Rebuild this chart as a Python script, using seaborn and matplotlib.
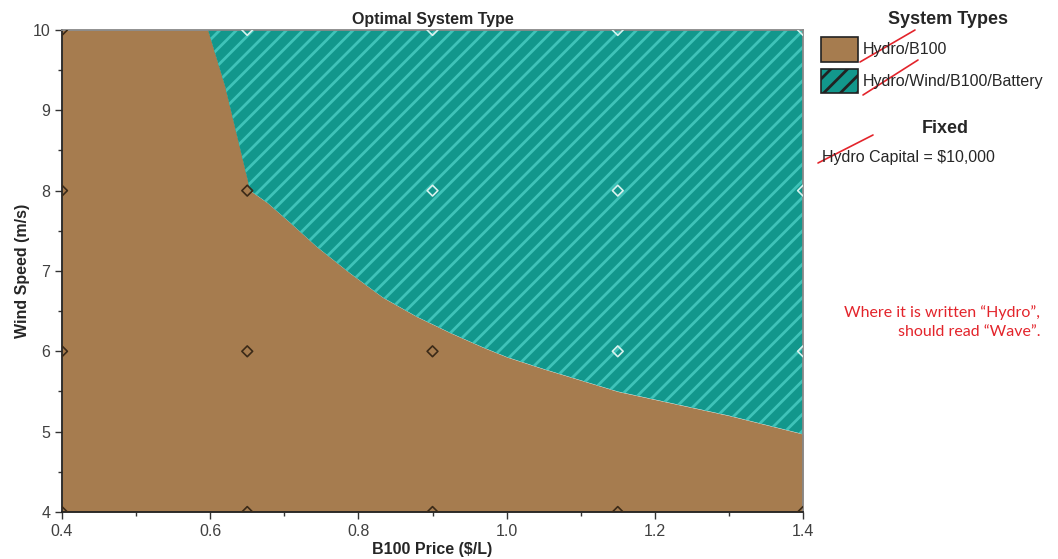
import numpy as np
import pandas as pd
import matplotlib
matplotlib.use("Agg")
import matplotlib.pyplot as plt
import seaborn as sns
from matplotlib.patches import Patch
from matplotlib.ticker import MultipleLocator

# boundary between the two optimal system regions (upper edge of Hydro/B100 area)
boundary_price = [0.40, 0.597, 0.62, 0.654, 0.677, 0.708, 0.744, 0.789, 0.833, 0.879, 0.924,
                  0.968, 1.00, 1.05, 1.10, 1.15, 1.20, 1.30, 1.40]
boundary_wind = [10.0, 10.0, 9.3, 8.0, 7.85, 7.60, 7.30, 6.97, 6.67, 6.43, 6.23,
                 6.05, 5.93, 5.78, 5.64, 5.50, 5.40, 5.20, 4.97]

# simulated sensitivity points
grid_price = [0.4, 0.65, 0.9, 1.15, 1.4]
grid_wind = [4, 6, 8, 10]
# points that fall in the hatched (Hydro/Wind/B100/Battery) region
wind_points = [(0.65, 10), (0.9, 10), (1.15, 10), (1.4, 10),
               (0.9, 8), (1.15, 8), (1.4, 8), (1.15, 6), (1.4, 6)]

system_types = ["Hydro/B100", "Hydro/Wind/B100/Battery"]
brown = "#A67C4F"
teal = "#12978C"
stripe = "#3FC3B9"

pts = pd.DataFrame([(p, w) for p in grid_price for w in grid_wind], columns=["price", "wind"])
pts["system"] = [system_types[1] if (p, w) in wind_points else system_types[0]
                 for p, w in zip(pts.price, pts.wind)]

sns.set_style("ticks")
plt.rcParams["font.family"] = ["Liberation Sans", "DejaVu Sans"]
plt.rcParams["hatch.color"] = stripe
plt.rcParams["hatch.linewidth"] = 2.0

fig = plt.figure(figsize=(10.58, 5.59), dpi=100)
ax = fig.add_axes([0.0586, 0.0841, 0.7004, 0.8623])

ax.fill_between(boundary_price, 4, boundary_wind, color=brown, linewidth=0)
ax.fill_between(boundary_price, boundary_wind, 10, facecolor=teal, edgecolor=stripe,
                hatch="//", linewidth=0)

marker_colors = {system_types[0]: "#3B2A18", system_types[1]: "#D8F2EE"}
sns.scatterplot(data=pts, x="price", y="wind", marker="D", s=30, linewidth=1.2,
                legend=False, ax=ax, zorder=3)
coll = ax.collections[-1]
coll.set_edgecolors([marker_colors[s] for s in pts.system])
coll.set_facecolors("none")

ax.set_xlim(0.4, 1.4)
ax.set_ylim(4, 10)
ax.xaxis.set_major_locator(MultipleLocator(0.2))
ax.xaxis.set_minor_locator(MultipleLocator(0.1))
ax.yaxis.set_major_locator(MultipleLocator(1))
ax.yaxis.set_minor_locator(MultipleLocator(0.5))
ax.set_xticklabels([f"{v:.1f}" for v in ax.get_xticks()])
ax.tick_params(which="major", length=5, width=1, labelsize=11.5, labelcolor="#404040", color="#333333")
ax.tick_params(which="minor", length=3, width=1, color="#333333")
for s in ["left", "bottom"]:
    ax.spines[s].set_color("#222222")
    ax.spines[s].set_linewidth(1.3)
for s in ["top", "right"]:
    ax.spines[s].set_color("#888888")
    ax.spines[s].set_linewidth(1.3)

ax.set_xlabel("B100 Price ($/L)", fontsize=11.5, fontweight="bold", labelpad=2)
ax.set_ylabel("Wind Speed (m/s)", fontsize=11.5, fontweight="bold", labelpad=2)
ax.set_title("Optimal System Type", fontsize=11.5, fontweight="bold", pad=4)

# legend panel
fig.text(0.896, 0.966, "System Types", fontsize=13, fontweight="bold", ha="center", va="center")
handles = [Patch(facecolor=brown, edgecolor="#222222", linewidth=1.2, label=system_types[0]),
           Patch(facecolor=teal, edgecolor="#222222", linewidth=1.2, hatch="//", label=system_types[1])]
fig.legend(handles=handles, loc="upper left", bbox_to_anchor=(0.776, 0.934), frameon=False,
           fontsize=11.5, handlelength=2.3, handleheight=2.0, handletextpad=0.3,
           labelspacing=0.45, borderaxespad=0, borderpad=0)
fig.text(0.893, 0.770, "Fixed", fontsize=13, fontweight="bold", ha="center", va="center")
fig.text(0.777, 0.719, "Hydro Capital = $10,000", fontsize=11.5, ha="left", va="center")

# red correction marks
red = "#E3242B"
for (x0, y0, x1, y1) in [(860, 62, 915, 30), (863, 95, 918, 60), (818, 163, 873, 135)]:
    fig.add_artist(plt.Line2D([x0 / 1058, x1 / 1058], [1 - y0 / 559, 1 - y1 / 559],
                              color=red, linewidth=1.2))
fig.text(0.983, 0.424, "Where it is written \u201cHydro\u201d,\nshould read \u201cWave\u201d.",
         fontsize=11.5, color=red, ha="right", va="center", family=["Lato", "DejaVu Sans"],
         multialignment="right", linespacing=1.5)

fig.savefig("out.png", dpi=100)
